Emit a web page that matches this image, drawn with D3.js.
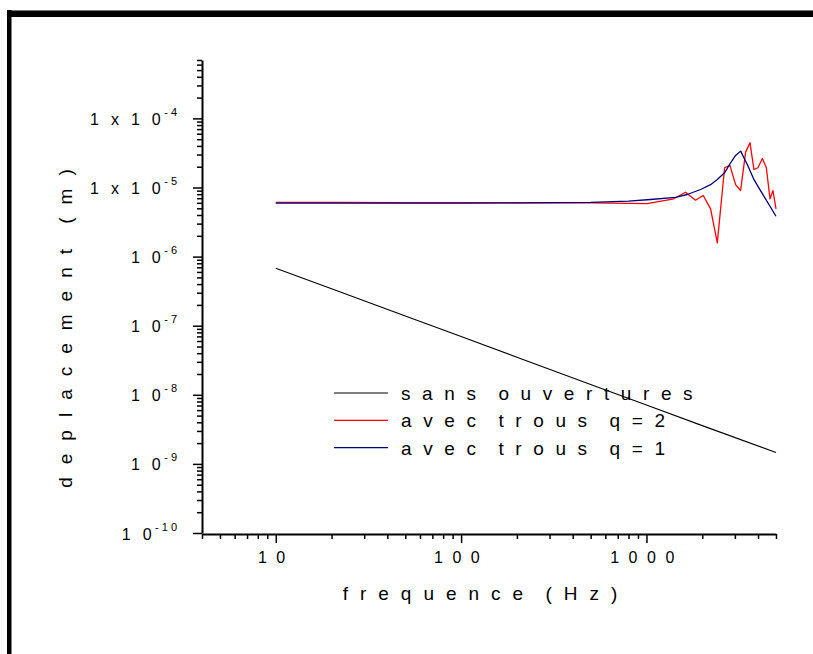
<!DOCTYPE html>
<html>
<head>
<meta charset="utf-8">
<script src="https://cdn.jsdelivr.net/npm/d3@7"></script>
<style>
  html, body { margin: 0; padding: 0; background: #fff; }
  svg { display: block; }
  text { font-family: "Liberation Sans", Arial, sans-serif; fill: #000; }
</style>
</head>
<body>
<svg id="chart" width="813" height="654"></svg>
<script>
// Displacement vs frequency, log-log
const sansFreq = [10, 20, 50, 100, 200, 500, 1000, 2000, 5000];
const sansVals = [6.8e-7, 3.42e-7, 1.38e-7, 6.96e-8, 3.5e-8, 1.41e-8, 7.1e-9, 3.58e-9, 1.46e-9];

const q2Freq = [10, 20, 50, 100, 200, 500, 1009, 1405, 1625, 1840, 2025, 2218, 2412, 2640, 2820, 3027, 3221, 3428, 3618, 3802, 3996, 4221, 4436, 4640, 4816, 5000];
const q2Vals = [6.1e-6, 6.1e-6, 6.05e-6, 6.05e-6, 6.0e-6, 6.0e-6, 5.86e-6, 6.86e-6, 8.55e-6, 6.55e-6, 7.66e-6, 4.91e-6, 1.58e-6, 1.93e-5, 2.09e-5, 1.10e-5, 9.05e-6, 3.25e-5, 4.45e-5, 1.82e-5, 1.93e-5, 2.63e-5, 1.93e-5, 6.86e-6, 9.05e-6, 4.9e-6];

const q1Freq = [10, 20, 50, 100, 200, 500, 800, 1051, 1435, 1660, 1959, 2218, 2410, 2640, 2844, 3027, 3222, 3500, 3800, 4040, 4300, 5000];
const q1Vals = [5.95e-6, 5.95e-6, 5.95e-6, 5.95e-6, 5.98e-6, 6.1e-6, 6.35e-6, 6.7e-6, 7.2e-6, 7.92e-6, 9.35e-6, 1.10e-5, 1.31e-5, 1.63e-5, 2.28e-5, 2.91e-5, 3.36e-5, 2.15e-5, 1.31e-5, 9.9e-6, 7.5e-6, 3.84e-6];

const seriesNames = ["sans ouvertures", "avec trous q=2", "avec trous q=1"];
const seriesColors = ["#000000", "#ff0000", "#000080"];

const xTickValues = [10, 100, 1000];
const xTickLabels = ["10", "100", "1000"];
const yTickValues = [1e-4, 1e-5, 1e-6, 1e-7, 1e-8, 1e-9, 1e-10];
const yTickMantissa = ["1x10", "1x10", "10", "10", "10", "10", "10"];
const yTickExponent = ["-4", "-5", "-6", "-7", "-8", "-9", "-10"];

const xTitle = "frequence (Hz)";
const yTitle = "deplacement (m)";

const svg = d3.select("#chart");

// page frame
svg.append("rect").attr("x", 7).attr("y", 10).attr("width", 806).attr("height", 7).attr("fill", "#000");
svg.append("line").attr("x1", 7).attr("x2", 813).attr("y1", 10.5).attr("y2", 10.5).attr("stroke", "#777").attr("stroke-width", 1);
svg.append("rect").attr("x", 7).attr("y", 10).attr("width", 4.5).attr("height", 644).attr("fill", "#000");

const x = d3.scaleLog().domain([4, 5000]).range([202, 776]);
const y = d3.scaleLog().domain([1e-10, 7e-4]).range([533, 60]);

// minor ticks (2..9 per decade)
const xMinor = [];
for (let d = 1; d <= 1000; d *= 10) for (let m = 2; m <= 9; m++) { const v = m * d; if (v >= 4 && v <= 5000) xMinor.push(v); }
const yMinor = [];
for (let e = -10; e <= -4; e++) for (let m = 2; m <= 9; m++) { const v = m * Math.pow(10, e); if (v <= 7.05e-4) yMinor.push(v); }

const axisStyle = g => {
  g.select(".domain").attr("stroke", "#000").attr("stroke-width", 2);
  g.selectAll(".tick line").attr("stroke", "#000").attr("stroke-width", 1.5);
};

// spaced text: every character but the last gets the extra spacing
function spaced(sel, str, size, ls) {
  sel.append("tspan").attr("font-size", size).attr("letter-spacing", ls + "px").text(str.slice(0, -1));
  return sel.append("tspan").attr("font-size", size).attr("letter-spacing", "0px").text(str.slice(-1));
}

// x axis
svg.append("g").attr("transform", "translate(0,534)")
  .call(d3.axisBottom(x).tickValues(xMinor).tickSize(5).tickSizeOuter(0).tickFormat(""))
  .call(axisStyle);
const gx = svg.append("g").attr("transform", "translate(0,534)")
  .call(d3.axisBottom(x).tickValues(xTickValues).tickSize(9).tickSizeOuter(0).tickPadding(13).tickFormat(""))
  .call(axisStyle);
gx.select(".domain").remove();
gx.selectAll(".tick").each(function (d, i) {
  const t = d3.select(this).select("text")
    .attr("dx", -4.7).attr("font-family", "Liberation Sans, Arial, sans-serif").attr("fill", "#000");
  spaced(t, xTickLabels[i], 16, 9.5);
});

// y axis
svg.append("g").attr("transform", "translate(202,0)")
  .call(d3.axisLeft(y).tickValues(yMinor).tickSize(5).tickSizeOuter(0).tickFormat(""))
  .call(axisStyle);
const gy = svg.append("g").attr("transform", "translate(202,0)")
  .call(d3.axisLeft(y).tickValues(yTickValues).tickSize(9).tickSizeOuter(0).tickFormat(""))
  .call(axisStyle);
gy.select(".domain").remove();
gy.selectAll(".tick").each(function (d, i) {
  const g = d3.select(this);
  g.select("text").remove();
  const t = g.append("text").attr("x", -25).attr("y", 6).attr("text-anchor", "end");
  spaced(t, yTickMantissa[i], 16, 12);
  const sup = t.append("tspan").attr("font-size", 11).attr("letter-spacing", "3px")
    .attr("dx", 3.5).attr("dy", -9).text(yTickExponent[i].slice(0, -1));
  t.append("tspan").attr("font-size", 11).attr("letter-spacing", "0px").text(yTickExponent[i].slice(-1));
});

// titles
svg.append("text").attr("x", 486).attr("y", 600).attr("text-anchor", "middle")
  .attr("font-size", 19).attr("letter-spacing", "12px").attr("word-spacing", "-7px").text(xTitle);
svg.append("text").attr("transform", "translate(72,322) rotate(-90)").attr("text-anchor", "middle")
  .attr("font-size", 19).attr("letter-spacing", "13px").attr("word-spacing", "-6px").text(yTitle);

// curves
const line = d3.line().x(d => x(d[0])).y(d => y(d[1]));
const series = [
  { f: sansFreq, v: sansVals, w: 1.1 },
  { f: q2Freq, v: q2Vals, w: 1.3 },
  { f: q1Freq, v: q1Vals, w: 1.3 }
];
series.forEach((s, i) => {
  svg.append("path")
    .datum(s.f.map((f, k) => [f, s.v[k]]))
    .attr("d", line).attr("fill", "none")
    .attr("stroke", seriesColors[i]).attr("stroke-width", s.w)
    .attr("stroke-linejoin", "round");
});

// legend
const leg = svg.append("g");
seriesNames.forEach((name, i) => {
  const ly = 393 + i * 27.3;
  leg.append("line").attr("x1", 334).attr("x2", 388).attr("y1", ly).attr("y2", ly)
    .attr("stroke", seriesColors[i]).attr("stroke-width", 1.2);
  leg.append("text").attr("x", 401).attr("y", ly + 7).attr("font-size", 19)
    .attr("letter-spacing", "11.6px").attr("word-spacing", "-6px").text(name);
});
</script>
</body>
</html>
